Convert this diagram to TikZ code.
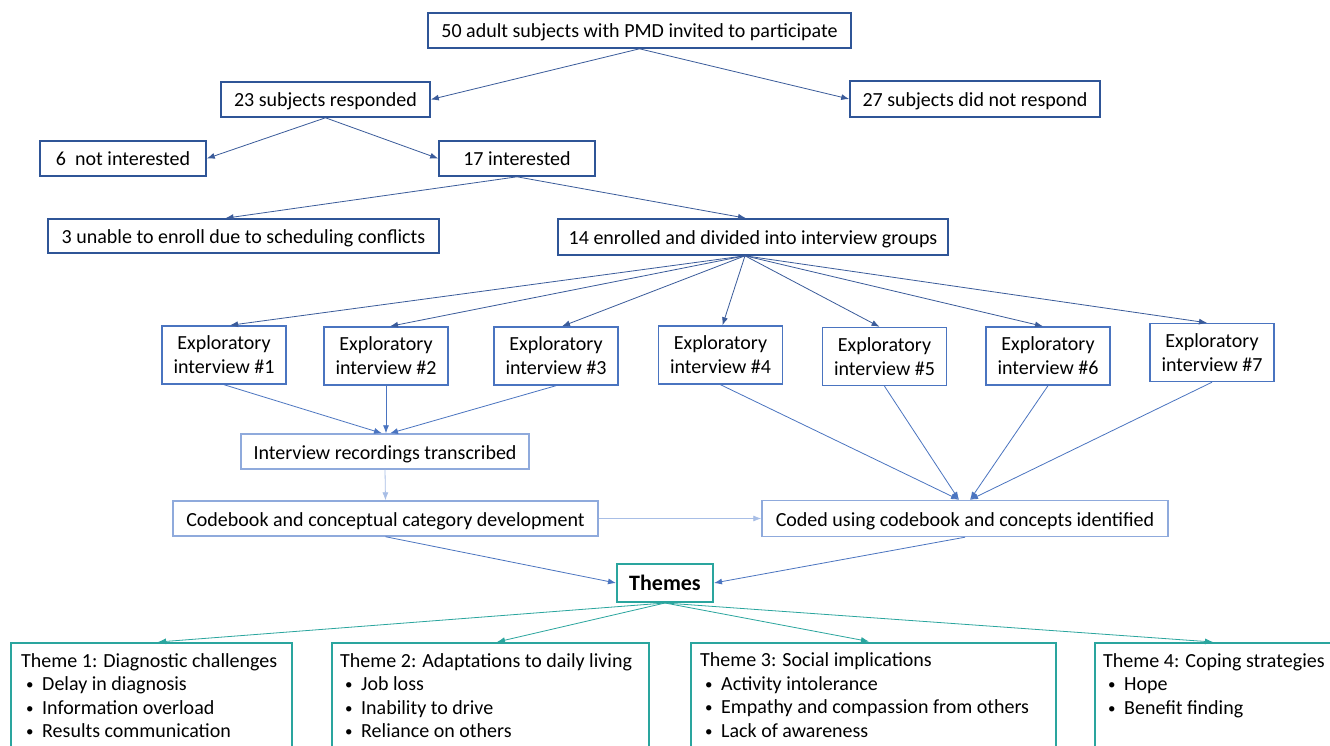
\documentclass[tikz,border=0pt]{standalone}
\usepackage{fontspec}
\setmainfont{Carlito}
\usetikzlibrary{arrows.meta,calc}
\definecolor{navy}{HTML}{2F5597}
\definecolor{navyarr}{HTML}{3A5B9A}
\definecolor{midblue}{HTML}{4A74C0}
\definecolor{lightblue}{HTML}{8FAADC}
\definecolor{paleblue}{HTML}{A8BEE6}
\definecolor{tealc}{HTML}{2AA59E}
\tikzset{
  bx/.style={draw, inner sep=0pt, align=center, fill=white},
  topbox/.style={bx, draw=navy, line width=1.6pt, text height=18pt, text depth=3pt},
  expbox/.style={bx, draw=midblue, line width=1.4pt, minimum width=124pt, minimum height=58pt},
  procbox/.style={bx, draw=lightblue, line width=1.4pt, text height=18pt, text depth=3pt},
  themesbox/.style={bx, draw=tealc, line width=2pt, font=\fontsize{22}{26}\selectfont\bfseries},
  themebox/.style={draw=tealc, line width=2pt, inner sep=0pt},
  themetext/.style={anchor=north west, inner sep=0pt, align=left, font=\fontsize{20}{23.5}\selectfont},
  arr/.style={-{Latex[length=8pt,width=6pt]}, line width=0.8pt},
  toparr/.style={arr, draw=navyarr},
  exparr/.style={arr, draw=midblue},
  palearr/.style={arr, draw=paleblue},
  tealarr/.style={arr, draw=tealc}
}
\newcommand{\bul}[1]{\hspace*{5pt}\makebox[16pt][l]{\raisebox{1pt}{\fontsize{15}{15}\selectfont•}}#1}
\begin{document}
\begin{tikzpicture}[x=1pt, y=-1pt, font=\fontsize{20}{24}\selectfont]
\useasboundingbox (0,0) rectangle (1330,746);
\clip (0,0) rectangle (1330,746);
\fill[white] (0,0) rectangle (1330,746);

% top part
\node[topbox, minimum width=423pt, minimum height=35pt] (inv) at (639.5,30.5) {50 adult subjects with PMD invited to participate};
\node[topbox, minimum width=209pt, minimum height=35pt] (resp) at (325.5,99.5) {23 subjects responded};
\node[topbox, minimum width=250pt, minimum height=36pt] (nores) at (975,99) {27 subjects did not respond};
\node[topbox, minimum width=166pt, minimum height=35pt] (notint) at (123,158.5) {6\ \ not interested};
\node[topbox, minimum width=156pt, minimum height=35pt] (int) at (517,158.5) {17 interested};
\node[topbox, minimum width=391pt, minimum height=34pt] (unable) at (243.5,236) {3 unable to enroll due to scheduling conflicts};
\node[topbox, minimum width=390pt, minimum height=36pt] (enr) at (753,237) {14 enrolled and divided into interview groups};

% exploratory interviews
\node[expbox] (e1) at (224,355) {Exploratory\\interview \#1};
\node[expbox] (e2) at (386,356) {Exploratory\\interview \#2};
\node[expbox] (e3) at (556,356) {Exploratory\\interview \#3};
\node[expbox] (e4) at (720.5,355) {Exploratory\\interview \#4};
\node[expbox] (e5) at (884.5,356.5) {Exploratory\\interview \#5};
\node[expbox] (e6) at (1048,356) {Exploratory\\interview \#6};
\node[expbox] (e7) at (1212,352.5) {Exploratory\\interview \#7};

% processing
\node[procbox, minimum width=288pt, minimum height=35pt] (trans) at (385,451.5) {Interview recordings transcribed};
\node[procbox, minimum width=425pt, minimum height=35pt] (code) at (385.5,518.5) {Codebook and conceptual category development};
\node[procbox, minimum width=406pt, minimum height=36pt] (coded) at (965,518.5) {Coded using codebook and concepts identified};
\node[themesbox, minimum width=96pt, minimum height=38pt] (themes) at (665,583) {Themes};

% theme boxes
\node[themebox, minimum width=281pt, minimum height=130pt] (t1) at (151.5,708) {};
\node[themebox, minimum width=317pt, minimum height=130pt] (t2) at (490.5,708) {};
\node[themebox, minimum width=365pt, minimum height=130pt] (t3) at (873.5,707.5) {};
\node[themebox, minimum width=240pt, minimum height=130pt] (t4) at (1215,708) {};
\node[themetext] (t1x) at ($(t1.north west)+(11,11)$) {Theme 1: Diagnostic challenges\\\bul{Delay in diagnosis}\\\bul{Information overload}\\\bul{Results communication}};
\node[themetext] (t2x) at ($(t2.north west)+(9,11)$) {Theme 2: Adaptations to daily living\\\bul{Job loss}\\\bul{Inability to drive}\\\bul{Reliance on others}};
\node[themetext] (t3x) at ($(t3.north west)+(10,11)$) {Theme 3: Social implications\\\bul{Activity intolerance}\\\bul{Empathy and compassion from others}\\\bul{Lack of awareness}};
\node[themetext] (t4x) at ($(t4.north west)+(9,11)$) {Theme 4: Coping strategies\\\bul{Hope}\\\bul{Benefit finding}};

% connectors: top
\draw[toparr] (inv.south) -- (resp.east);
\draw[toparr] (inv.south) -- (nores.west);
\draw[toparr] (resp.south) -- (notint.east);
\draw[toparr] (resp.south) -- (int.west);
\draw[toparr] (int.south) -- ($(unable.north)+(-18,0)$);
\draw[toparr] (int.south) -- ($(enr.north)+(-7,0)$);

\coordinate (fan) at ($(enr.south)+(-8,0)$);
\draw[toparr] (fan) -- ($(e1.north)+(6,0)$);
\draw[toparr] (fan) -- ($(e2.north)+(4,0)$);
\draw[toparr] (fan) -- ($(e3.north)+(6,0)$);
\draw[toparr] (fan) -- ($(e4.north)+(2,0)$);
\draw[toparr] (fan) -- ($(e5.north)+(-5,0)$);
\draw[toparr] (fan) -- ($(e6.north)+(-5,0)$);
\draw[toparr] (fan) -- ($(e7.north)+(-5,0)$);

% to transcription
\draw[exparr] (e1.south) -- ($(trans.north)+(-3,0)$);
\draw[exparr] (e2.south) -- ($(trans.north)+(1,0)$);
\draw[exparr] (e3.south) -- ($(trans.north)+(5,0)$);
\draw[palearr] (trans.south) -- (code.north);
\draw[palearr] (code.east) -- (coded.west);

% to coded
\draw[exparr] (e4.south) -- ($(coded.north)+(-6,0)$);
\draw[exparr] (e5.south) -- ($(coded.north)+(-6,0)$);
\draw[exparr] (e6.south) -- ($(coded.north)+(5,0)$);
\draw[exparr] (e7.south) -- ($(coded.north)+(5,0)$);

% to themes
\draw[exparr] (code.south) -- (themes.west);
\draw[exparr] (coded.south) -- (themes.east);

% themes fan
\draw[tealarr] (themes.south) -- ($(t1.north)+(6.5,0)$);
\draw[tealarr] (themes.south) -- ($(t2.north)+(6.5,0)$);
\draw[tealarr] (themes.south) -- ($(t3.north)+(-4.5,0)$);
\draw[tealarr] (themes.south) -- ($(t4.north)+(-2,0)$);
\end{tikzpicture}
\end{document}
